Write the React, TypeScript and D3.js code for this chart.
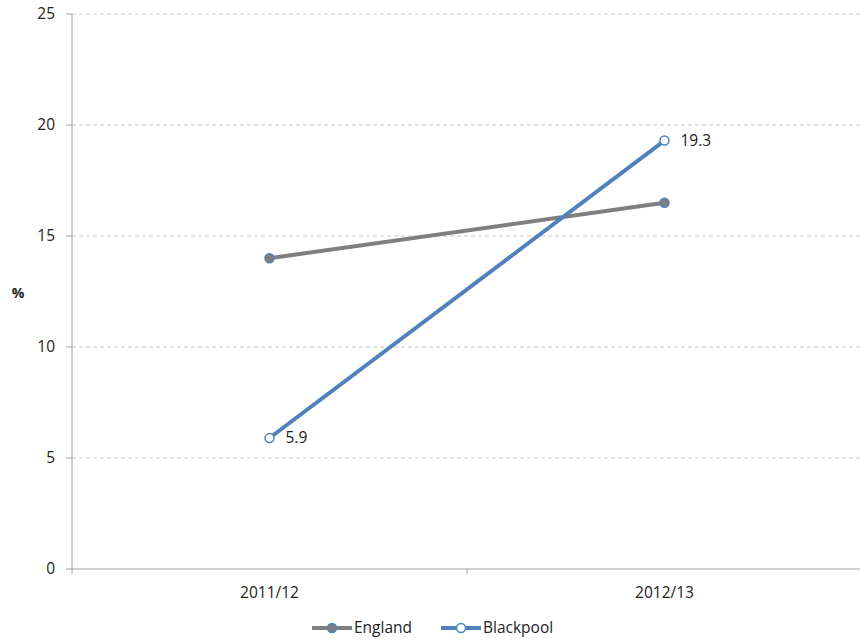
import React from "react";
import * as d3 from "d3";

const categories = ["2011/12", "2012/13"];
const englandValues = [14.0, 16.5];
const blackpoolValues = [5.9, 19.3];
const yTicks = [0, 5, 10, 15, 20, 25];

const W = 860, H = 643;
const left = 72, right = 862, top = 14, bottom = 569;

export default function App() {
  const x = d3.scaleBand<string>().domain(categories).range([left, right]);
  const y = d3.scaleLinear().domain([0, 25]).range([bottom, top]);
  const cx = (c: string) => (x(c) as number) + x.bandwidth() / 2;
  const line = d3.line<[string, number]>().x(d => cx(d[0])).y(d => y(d[1]));
  const eng = categories.map((c, i) => [c, englandValues[i]] as [string, number]);
  const bp = categories.map((c, i) => [c, blackpoolValues[i]] as [string, number]);
  const font = "'Open Sans', 'Liberation Sans', sans-serif";
  const grey = "#7f7f7f";
  const blue = "#4f81bd";
  const fs = 15.5;
  const xTickPos = [left, ...categories.slice(1).map(c => x(c) as number), right];
  return (
    <svg width={W} height={H} style={{ position: "absolute", left: 0, top: 0 }} fontFamily={font}>
      <rect width={W} height={H} fill="#fff" />
      {yTicks.filter(t => t > 0).map(t => (
        <line key={t} x1={left} x2={W} y1={y(t)} y2={y(t)} stroke="#c8c8c8" strokeDasharray="4,3" strokeWidth={1} />
      ))}
      <line x1={left} x2={left} y1={top} y2={bottom} stroke="#a0a0a0" />
      <line x1={left} x2={W} y1={bottom} y2={bottom} stroke="#a0a0a0" />
      {yTicks.map(t => (
        <g key={t}>
          <line x1={left - 6} x2={left} y1={y(t)} y2={y(t)} stroke="#a0a0a0" />
          <text x={55} y={y(t)} dy="0.35em" textAnchor="end" fontSize={fs} fill="#222">{t}</text>
        </g>
      ))}
      {xTickPos.map((p, i) => (
        <line key={i} x1={p} x2={p} y1={bottom} y2={bottom + 5} stroke="#a0a0a0" />
      ))}
      {categories.map(c => (
        <text key={c} x={cx(c)} y={598} textAnchor="middle" fontSize={fs} fill="#222">{c}</text>
      ))}
      <text x={18} y={293} dy="0.35em" textAnchor="middle" fontSize={14} fontWeight="bold" fill="#222">%</text>
      <path d={line(eng) || ""} fill="none" stroke={grey} strokeWidth={4} />
      <path d={line(bp) || ""} fill="none" stroke={blue} strokeWidth={4} />
      {eng.map((d, i) => (
        <circle key={i} cx={cx(d[0])} cy={y(d[1])} r={4.5} fill={grey} stroke={blue} strokeWidth={1.5} />
      ))}
      {bp.map((d, i) => (
        <circle key={i} cx={cx(d[0])} cy={y(d[1])} r={4.5} fill="#fff" stroke={blue} strokeWidth={1.5} />
      ))}
      {bp.map((d, i) => (
        <text key={i} x={cx(d[0]) + 16} y={y(d[1])} dy="0.35em" fontSize={fs} fill="#222">{d[1].toFixed(1)}</text>
      ))}
      <g>
        <line x1={312} x2={352} y1={628} y2={628} stroke={grey} strokeWidth={4} />
        <circle cx={332} cy={628} r={4.5} fill={grey} stroke={blue} strokeWidth={1.5} />
        <text x={354} y={628} dy="0.35em" fontSize={fs} fill="#222">England</text>
        <line x1={441} x2={481} y1={628} y2={628} stroke={blue} strokeWidth={4} />
        <circle cx={461} cy={628} r={4.5} fill="#fff" stroke={blue} strokeWidth={1.5} />
        <text x={483} y={628} dy="0.35em" fontSize={fs} fill="#222">Blackpool</text>
      </g>
    </svg>
  );
}
